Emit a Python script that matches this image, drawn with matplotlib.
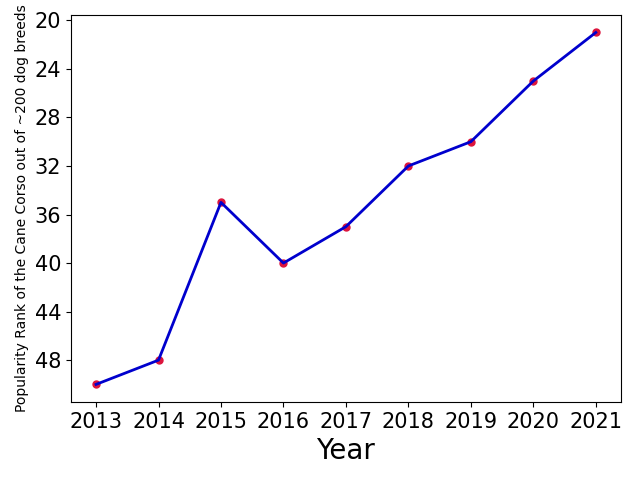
import matplotlib.pyplot as plt

years = [2013, 2014, 2015, 2016, 2017, 2018, 2019, 2020, 2021]
ranks = [50, 48, 35, 40, 37, 32, 30, 25, 21]

fig, ax = plt.subplots(figsize=(6.4, 4.8), dpi=100)
ax.scatter(years, ranks, color='crimson', s=25, zorder=2)
ax.plot(years, ranks, color='mediumblue', linewidth=2, zorder=3)
ax.invert_yaxis()
ax.set_yticks([20, 24, 28, 32, 36, 40, 44, 48])
ax.set_xticks(years)
ax.tick_params(axis='both', labelsize=15)
ax.set_xlabel('Year', fontsize=20)
ax.set_ylabel('Popularity Rank of the Cane Corso out of ~200 dog breeds', fontsize=10)
fig.subplots_adjust(left=0.111, right=0.97, top=0.969, bottom=0.1625)
fig.savefig('out.png')
